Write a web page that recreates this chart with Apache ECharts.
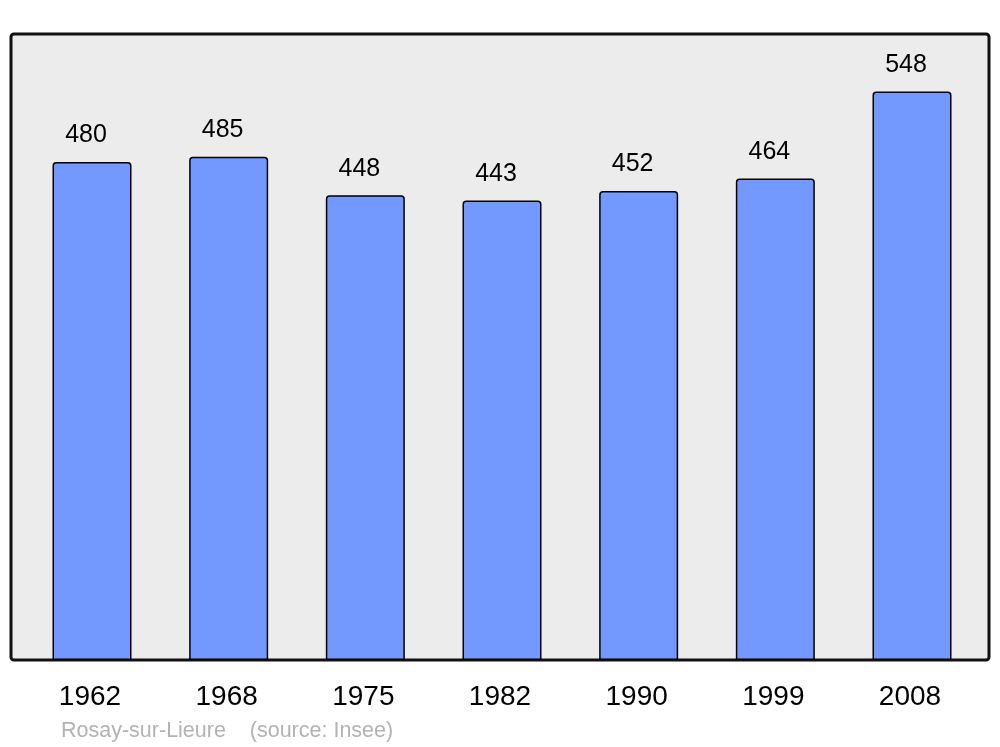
<!DOCTYPE html>
<html>
<head>
<meta charset="utf-8">
<script src="https://cdn.jsdelivr.net/npm/echarts@6/dist/echarts.min.js"></script>
<style>
  html, body { margin: 0; padding: 0; background: #fff; }
  #chart { width: 1000px; height: 747px; }
</style>
</head>
<body>
<div id="chart"></div>
<script>
  // années du recensement
  var years = ['1962', '1968', '1975', '1982', '1990', '1999', '2008'];
  // population
  var population = [480, 485, 448, 443, 452, 464, 548];
  var footer = 'Rosay-sur-Lieure    (source: Insee)';

  var chart = echarts.init(document.getElementById('chart'));
  chart.setOption({
    animation: false,
    textStyle: { fontFamily: 'Liberation Sans, Arial, sans-serif' },
    // cadre gris derrière les barres
    graphic: [{
      type: 'rect',
      z: -10,
      shape: { x: 11, y: 34, width: 978, height: 626, r: 3 },
      style: { fill: '#ececec', stroke: '#111', lineWidth: 3 }
    }],
    title: {
      text: footer,
      left: 56,
      top: 715,
      textStyle: { fontSize: 21.5, fontWeight: 'normal', color: '#b3b3b3' }
    },
    grid: { left: 23.67, right: 19.67, top: 37.5, bottom: 87 },
    xAxis: {
      type: 'category',
      data: years,
      axisLine: { show: false },
      axisTick: { show: false },
      axisLabel: { color: '#000', fontSize: 28, margin: 23, padding: [0, 4, 0, 0] }
    },
    yAxis: {
      type: 'value',
      min: 0,
      max: 600,
      show: false,
      splitLine: { show: false }
    },
    series: [{
      type: 'bar',
      data: population,
      barWidth: 79,
      itemStyle: {
        color: '#7399ff',
        borderColor: '#000',
        borderWidth: 1.5,
        borderRadius: [3, 3, 0, 0]
      },
      label: {
        show: true,
        position: 'top',
        distance: 14,
        offset: [-6, 0],
        color: '#000',
        fontSize: 25
      }
    }]
  });
</script>
</body>
</html>
